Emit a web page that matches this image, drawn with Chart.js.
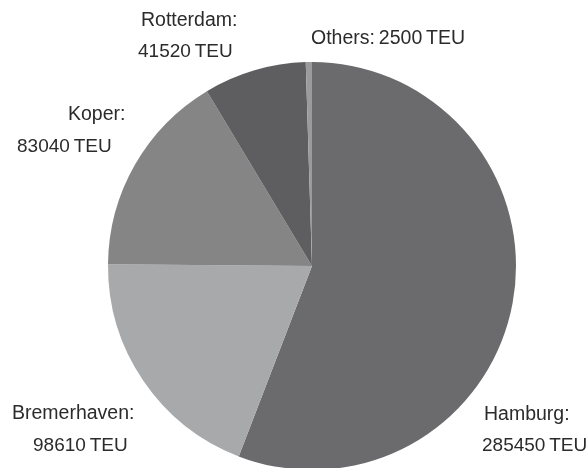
<!DOCTYPE html>
<html>
<head>
<meta charset="utf-8">
<script src="https://cdn.jsdelivr.net/npm/chart.js@4/dist/chart.umd.min.js"></script>
<style>
  html, body { margin: 0; padding: 0; background: #ffffff; overflow: hidden; }
  #wrap { position: relative; width: 588px; height: 474px; }
</style>
</head>
<body>
<div id="wrap"><canvas id="c"></canvas></div>
<script>
// ---- data ----
const categories = ["Hamburg", "Bremerhaven", "Koper", "Rotterdam", "Others"];
const teuValues = [285450, 98610, 83040, 41520, 2500];
const unitLabel = "TEU";

// ---- styles / layout ----
const sliceColors = ["#6b6b6e", "#a8a9ab", "#858585", "#5e5e60", "#9b9b9b"];
const labelLayout = [
  { lines: 2, pos: [[484, 420], [482, 451]] },
  { lines: 2, pos: [[12, 419], [33, 451]] },
  { lines: 2, pos: [[68, 120], [17, 152]] },
  { lines: 2, pos: [[141, 26], [138, 57]] },
  { lines: 1, pos: [[311, 44]] }
];
const SP = '\u2009';

const labelPlugin = {
  id: 'sliceLabels',
  afterDraw(chart) {
    const ctx = chart.ctx;
    ctx.save();
    ctx.fillStyle = '#2b2b2b';
    ctx.textAlign = 'left';
    ctx.textBaseline = 'alphabetic';
    categories.forEach((cat, i) => {
      const lay = labelLayout[i];
      const v = chart.data.datasets[0].data[i];
      if (lay.lines === 2) {
        ctx.font = '19.5px "Liberation Sans", Arial, sans-serif';
        ctx.fillText(cat + ':', lay.pos[0][0], lay.pos[0][1]);
        ctx.font = '19px "Liberation Sans", Arial, sans-serif';
        ctx.fillText(v + SP + unitLabel, lay.pos[1][0], lay.pos[1][1]);
      } else {
        ctx.font = '19.5px "Liberation Sans", Arial, sans-serif';
        ctx.fillText(cat + ':' + SP + v + SP + unitLabel, lay.pos[0][0], lay.pos[0][1]);
      }
    });
    ctx.restore();
  }
};

new Chart(document.getElementById('c'), {
  type: 'pie',
  data: {
    labels: categories,
    datasets: [{
      data: teuValues,
      backgroundColor: sliceColors,
      borderWidth: 0
    }]
  },
  options: {
    responsive: true,
    maintainAspectRatio: false,
    animation: false,
    layout: { padding: { left: 108, right: 72, top: 62, bottom: 4 } },
    plugins: {
      legend: { display: false },
      tooltip: { enabled: false }
    }
  },
  plugins: [labelPlugin]
});
</script>
</body>
</html>
